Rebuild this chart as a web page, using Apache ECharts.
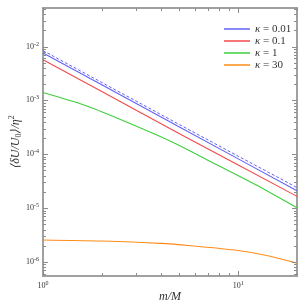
<!DOCTYPE html>
<html><head><meta charset="utf-8">
<script src="https://cdn.jsdelivr.net/npm/echarts@6/dist/echarts.min.js"></script>
<style>html,body{margin:0;padding:0;background:#fff}#c{width:308px;height:308px}</style>
</head><body><div id="c"></div>
<script>
// ---- data ----
const seriesNames = ['κ = 0.01', 'κ = 0.1', 'κ = 1', 'κ = 30'];
const colors = ['#6262f7', '#f24a4a', '#3ccf3c', '#ff8c1a'];

const xBlue = [1, 2, 5, 10, 20];
const blueSolid = [7.6e-3, 1.95e-3, 3.2e-4, 8.2e-5, 2.09e-5];
const blueDashed = [8.4e-3, 2.15e-3, 3.55e-4, 9.2e-5, 2.4e-5];
const xRed = [1, 2, 5, 10, 20];
const red = [5.67e-3, 1.46e-3, 2.4e-4, 6.3e-5, 1.65e-5];
const xGreen = [1, 1.69, 2.85, 4.73, 7.28, 12.3, 20];
const green = [1.40e-3, 7.78e-4, 3.59e-4, 1.60e-4, 7.18e-5, 2.70e-5, 1.01e-5];
const xOrange = [1, 2, 4, 5.7, 10, 14, 20];
const orange = [2.55e-6, 2.44e-6, 2.21e-6, 2.0e-6, 1.63e-6, 1.32e-6, 9.5e-7];

const X_MIN = 1, X_MAX = 20;
const Y_MIN = 5.48e-7, Y_MAX = 0.0519;
const xMajorTicks = [1, 10];
const xMajorLabels = ['0', '1'];
const yMajorTicks = [1e-6, 1e-5, 1e-4, 1e-3, 1e-2];
const yMajorLabels = ['-6', '-5', '-4', '-3', '-2'];
const minorMultipliers = [2, 3, 4, 5, 6, 7, 8, 9];

// ---- build tick data ----
const tickData = [];
yMajorTicks.forEach((v, i) => tickData.push([X_MIN, v, 1, i]));
[1e-7].concat(yMajorTicks).forEach(d => minorMultipliers.forEach(m => {
  const v = d * m; if (v > Y_MIN && v < Y_MAX) tickData.push([X_MIN, v, 0, -1]);
}));
xMajorTicks.forEach((v, i) => tickData.push([v, Y_MIN, 3, i]));
xMajorTicks.forEach(d => minorMultipliers.forEach(m => {
  const v = d * m; if (v > X_MIN && v <= X_MAX) tickData.push([v, Y_MIN, 2, -1]);
}));

const tickColor = '#8c8c8c';
const labelRich = {
  b: { fontSize: 8, fontFamily: 'Liberation Serif', fill: '#333', color: '#333' },
  s: { fontSize: 6, fontFamily: 'Liberation Serif', fill: '#333', color: '#333', padding: [0, 0, 5, 0] }
};
function renderTick(params, api) {
  const x = api.value(0), y = api.value(1), k = api.value(2), li = api.value(3);
  const ch = [];
  const st = { fill: tickColor };
  if (k < 2) {
    const a = api.coord([X_MIN, y]), b = api.coord([X_MAX, y]);
    const len = k === 1 ? 5 : 3;
    const yy = Math.round(a[1]);
    ch.push({ type: 'rect', shape: { x: a[0], y: yy, width: len, height: 1 }, style: st });
    ch.push({ type: 'rect', shape: { x: b[0] - len, y: yy, width: len, height: 1 }, style: st });
    if (k === 1) {
      ch.push({ type: 'text', x: a[0] - 4, y: a[1], style: {
        text: '{b|10}{s|' + yMajorLabels[li] + '}', align: 'right', verticalAlign: 'middle', rich: labelRich } });
    }
  } else {
    const a = api.coord([x, Y_MIN]), b = api.coord([x, Y_MAX]);
    const len = k === 3 ? 5 : 3;
    const xx = Math.round(a[0]);
    ch.push({ type: 'rect', shape: { x: xx, y: a[1] - len, width: 1, height: len }, style: st });
    ch.push({ type: 'rect', shape: { x: xx, y: b[1], width: 1, height: len }, style: st });
    if (k === 3) {
      ch.push({ type: 'text', x: a[0], y: a[1] + 10, style: {
        text: '{b|10}{s|' + xMajorLabels[li] + '}', align: 'center', verticalAlign: 'middle', rich: labelRich } });
    }
  }
  return { type: 'group', children: ch };
}

const zip = (xs, ys) => xs.map((x, i) => [x, ys[i]]);

const chart = echarts.init(document.getElementById('c'), null, { renderer: 'canvas' });
chart.setOption({
  animation: false,
  backgroundColor: '#fff',
  grid: { left: 30, right: 11, top: 8, bottom: 27, show: true, borderColor: '#a0a0a0', borderWidth: 2, backgroundColor: 'transparent' },
  legend: {
    data: seriesNames, orient: 'vertical', left: 219, top: 18, itemGap: 0,
    itemWidth: 26, itemHeight: 1.5, icon: 'rect',
    textStyle: { fontFamily: 'Liberation Serif', fontSize: 11, color: '#333', lineHeight: 12,
      rich: { i: { fontFamily: 'Liberation Serif', fontStyle: 'italic', fontSize: 11, color: '#333' },
              n: { fontFamily: 'Liberation Serif', fontSize: 11, color: '#333' } } },
    formatter: n => '{i|κ}{n|' + n.slice(1) + '}',
    selectedMode: false
  },
  xAxis: {
    type: 'log', logBase: 10, min: X_MIN, max: X_MAX,
    axisLine: { show: false }, axisTick: { show: false }, axisLabel: { show: false }, splitLine: { show: false },
    name: 'm/M', nameLocation: 'middle', nameGap: 15,
    nameTextStyle: { fontFamily: 'Liberation Serif', fontStyle: 'italic', fontSize: 12, color: '#333' }
  },
  yAxis: {
    type: 'log', logBase: 10, min: Y_MIN, max: Y_MAX,
    axisLine: { show: false }, axisTick: { show: false }, axisLabel: { show: false }, splitLine: { show: false },
    name: '{t|⟨δU/U}{sb|0}{t|⟩/η}{sp|2}', nameLocation: 'middle', nameGap: 20, nameRotate: 90,
    nameTextStyle: { rich: {
      t: { fontFamily: 'Liberation Serif', fontStyle: 'italic', fontSize: 12, color: '#333' },
      sb: { fontFamily: 'Liberation Serif', fontSize: 8, color: '#333', padding: [6, 0, 0, 0] },
      sp: { fontFamily: 'Liberation Serif', fontSize: 8, color: '#333', padding: [0, 0, 7, 0] } } }
  },
  series: [
    { name: seriesNames[0], type: 'line', data: zip(xBlue, blueSolid), showSymbol: false, color: colors[0], lineStyle: { width: 1.1 } },
    { name: 'dashed', type: 'line', data: zip(xBlue, blueDashed), showSymbol: false, color: colors[0], lineStyle: { width: 1, type: [3, 2] } },
    { name: seriesNames[1], type: 'line', data: zip(xRed, red), showSymbol: false, color: colors[1], lineStyle: { width: 1.1 } },
    { name: seriesNames[2], type: 'line', data: zip(xGreen, green), showSymbol: false, smooth: 0.3, color: colors[2], lineStyle: { width: 1.1 } },
    { name: seriesNames[3], type: 'line', data: zip(xOrange, orange), showSymbol: false, smooth: 0.3, color: colors[3], lineStyle: { width: 1.1 } },
    { type: 'custom', data: tickData, renderItem: renderTick, encode: { x: 0, y: 1 }, silent: true, z: 5, clip: false }
  ]
});
</script></body></html>
